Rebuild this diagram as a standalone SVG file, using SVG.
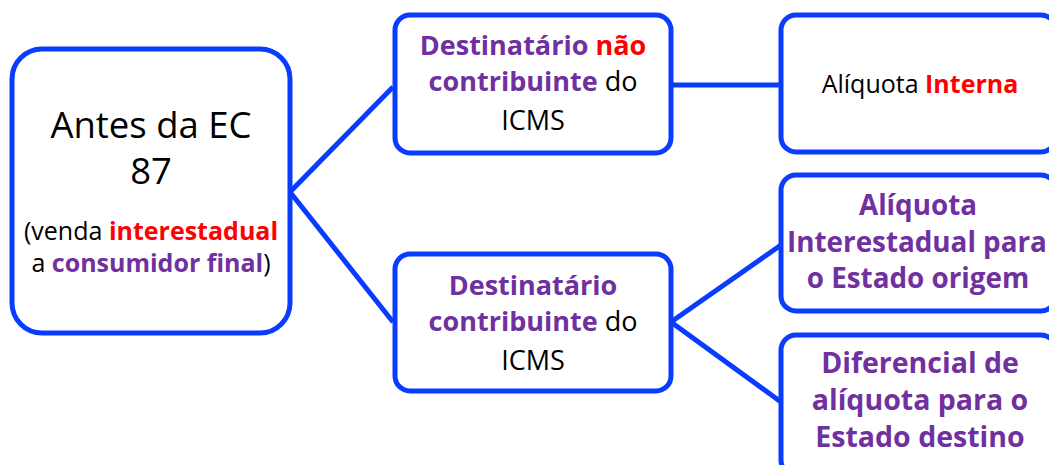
<svg xmlns="http://www.w3.org/2000/svg" width="1049" height="465" viewBox="0 0 1049 465">
<style>
.box{fill:#fff;stroke:#0a3cff;stroke-width:5}
.con{fill:none;stroke:#0a3cff;stroke-width:5}
text{font-family:"Open Sans","Liberation Sans",sans-serif;text-anchor:middle;fill:#000}
.p{fill:#7030a0;font-weight:bold}
.r{fill:#ff0000;font-weight:bold}
</style>
<rect width="1049" height="465" fill="#fff"/>
<g id="connectors">
<polyline class="con" points="393,87 290,192 393,322"/>
<line class="con" x1="671" y1="85" x2="781" y2="85"/>
<polyline class="con" points="781,245 671,322 781,402"/>
</g>
<g id="n-antes">
<rect class="box" x="12" y="49" width="278" height="284" rx="30"/>
<text x="151" y="138" font-size="36.5">Antes da EC</text>
<text x="151" y="184" font-size="36.5">87</text>
<text x="151" y="240" font-size="25">(venda <tspan class="r">interestadual</tspan></text>
<text x="151" y="272" font-size="25">a <tspan class="p">consumidor final</tspan>)</text>
</g>
<g id="n-nao-contribuinte">
<rect class="box" x="395" y="15" width="276" height="138" rx="15"/>
<text x="533" y="55" font-size="27"><tspan class="p">Destinatário</tspan> <tspan class="r">não</tspan></text>
<text x="533" y="91" font-size="27"><tspan class="p">contribuinte</tspan> do</text>
<text x="533" y="130" font-size="27">ICMS</text>
</g>
<g id="n-contribuinte">
<rect class="box" x="395" y="254" width="276" height="137" rx="15"/>
<text x="533" y="295" font-size="27" class="p">Destinatário</text>
<text x="533" y="331" font-size="27"><tspan class="p">contribuinte</tspan> do</text>
<text x="533" y="370" font-size="27">ICMS</text>
</g>
<g id="n-interna">
<rect class="box" x="781" y="15" width="275" height="137" rx="15"/>
<text x="920" y="93" font-size="25">Alíquota <tspan class="r">Interna</tspan></text>
</g>
<g id="n-origem">
<rect class="box" x="781" y="175" width="275" height="136" rx="15"/>
<text x="918" y="215" font-size="27.8" class="p">Alíquota</text>
<text x="917" y="252" font-size="27.8" class="p">Interestadual para</text>
<text x="918" y="288" font-size="27.8" class="p">o Estado origem</text>
</g>
<g id="n-destino">
<rect class="box" x="781" y="335" width="275" height="140" rx="15"/>
<text x="920" y="373" font-size="28.5" class="p">Diferencial de</text>
<text x="920" y="410" font-size="28.5" class="p">alíquota para o</text>
<text x="920" y="447" font-size="28.5" class="p">Estado destino</text>
</g>
</svg>
